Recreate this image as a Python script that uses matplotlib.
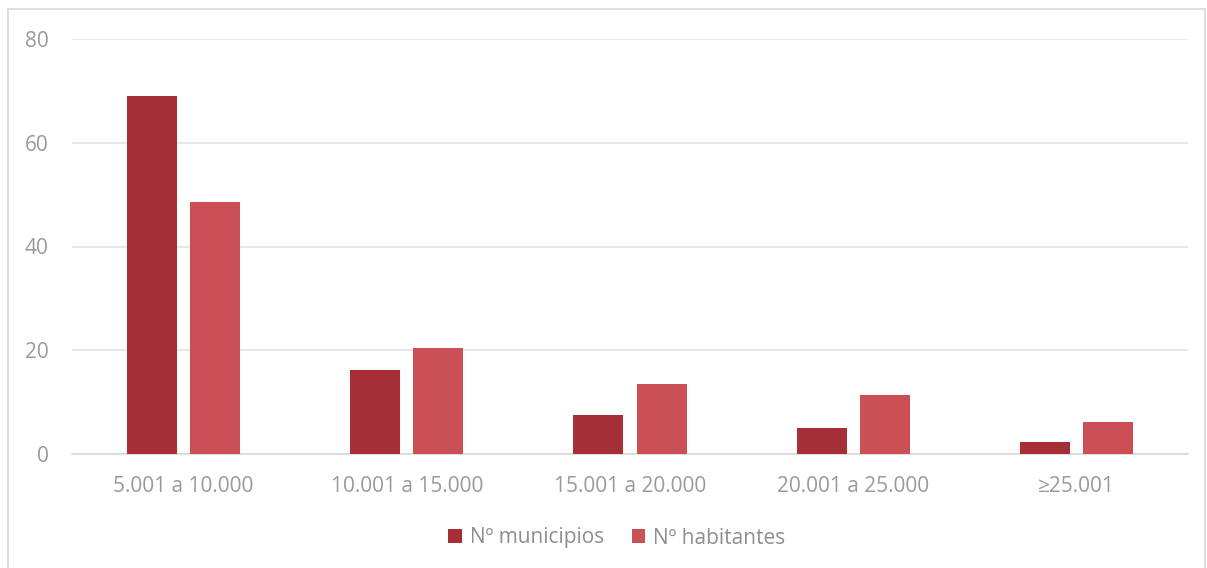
import matplotlib
matplotlib.use("Agg")
import matplotlib.pyplot as plt
from matplotlib.patches import Rectangle
import numpy as np

categories = ["5.001 a 10.000", "10.001 a 15.000", "15.001 a 20.000", "20.001 a 25.000", "≥25.001"]
municipios = [69.0, 16.2, 7.5, 5.0, 2.3]
habitantes = [48.6, 20.4, 13.5, 11.4, 6.2]
series_names = ["Nº municipios", "Nº habitantes"]
yticks = [0, 20, 40, 60, 80]

plt.rcParams['font.family'] = ['Open Sans', 'DejaVu Sans']
W, H = 1207, 568
fig = plt.figure(figsize=(W/100, H/100), dpi=100)
ax = fig.add_axes([72/W, 1-454/H, (1188-72)/W, (454-39)/H])

x = np.arange(len(categories))
bw = 0.224
off = 0.1415
c1, c2 = "#A52F37", "#CB5056"
ax.bar(x - off, municipios, bw, color=c1, label=series_names[0], zorder=3)
ax.bar(x + off, habitantes, bw, color=c2, label=series_names[1], zorder=3)

ax.set_xlim(-0.5, len(categories) - 0.5)
ax.set_ylim(0, 80)
ax.set_yticks(yticks)
ax.set_xticks(x)
ax.set_xticklabels(categories)
ax.yaxis.grid(True, color="#e3e3e3", linewidth=1.2, zorder=0)
for s in ["top", "right", "left"]:
    ax.spines[s].set_visible(False)
ax.spines["bottom"].set_color("#d9d9d9")
ax.spines["bottom"].set_linewidth(1.2)
ax.tick_params(axis="both", length=0, colors="#9a9a9a", labelsize=15)
ax.tick_params(axis="x", pad=16)
ax.tick_params(axis="y", pad=17)

leg = fig.legend(loc="center", bbox_to_anchor=(617/W, 1-538/H), ncol=2, frameon=False,
                 fontsize=15, labelcolor="#8f8f8f", handlelength=0.65, handleheight=0.65,
                 handletextpad=0.4, columnspacing=1.3)

fig.patches.append(Rectangle((8/W, -0.01), (1205-8)/W, 1.01 - 9/H, transform=fig.transFigure,
                             fill=False, edgecolor="#d9d9d9", linewidth=1.2))
fig.savefig("out.png", dpi=100, facecolor="white")
